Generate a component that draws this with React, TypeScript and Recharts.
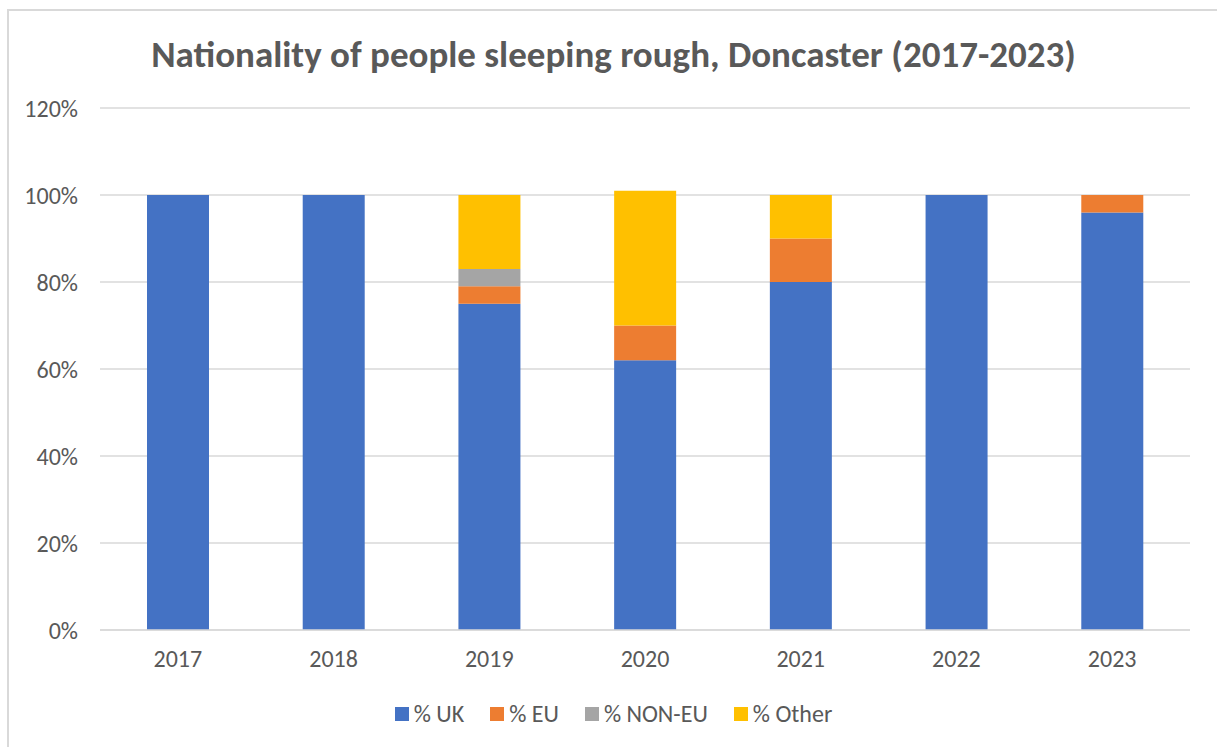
import React from 'react';
import { BarChart, Bar, XAxis, YAxis, CartesianGrid } from 'recharts';

const years = ['2017', '2018', '2019', '2020', '2021', '2022', '2023'];
const ukPct = [100, 100, 75, 62, 80, 100, 96];
const euPct = [0, 0, 4, 8, 10, 0, 4];
const nonEuPct = [0, 0, 4, 0, 0, 0, 0];
const otherPct = [0, 0, 17, 31, 10, 0, 0];
const yTicks = [0, 20, 40, 60, 80, 100, 120];

const series = [
  { key: 'uk', name: '% UK', color: '#4472C4' },
  { key: 'eu', name: '% EU', color: '#ED7D31' },
  { key: 'nonEu', name: '% NON-EU', color: '#A5A5A5' },
  { key: 'other', name: '% Other', color: '#FFC000' },
];

const data = years.map((year, i) => ({
  year,
  uk: ukPct[i],
  eu: euPct[i],
  nonEu: nonEuPct[i],
  other: otherPct[i],
}));

const font = "Carlito, 'Open Sans', 'Liberation Sans', sans-serif";
const textColor = '#595959';

const App: React.FC = () => {
  return (
    <div
      style={{
        position: 'absolute',
        left: 0,
        top: 0,
        width: 1217,
        height: 747,
        overflow: 'hidden',
        background: '#fff',
        fontFamily: font,
      }}
    >
      <div
        style={{
          position: 'absolute',
          left: 7,
          top: 9,
          width: 1400,
          height: 900,
          border: '2px solid #d9d9d9',
        }}
      />
      <div
        style={{
          position: 'absolute',
          left: 0,
          top: 32,
          width: 1227,
          textAlign: 'center',
          fontSize: 37,
          fontWeight: 700,
          color: textColor,
          lineHeight: '46px',
        }}
      >
        Nationality of people sleeping rough, Doncaster (2017-2023)
      </div>
      <div style={{ position: 'absolute', left: 0, top: 0 }}>
        <BarChart
          width={1217}
          height={747}
          data={data}
          margin={{ top: 108, right: 27, bottom: 87, left: 0 }}
        >
          <CartesianGrid vertical={false} stroke="#d9d9d9" strokeWidth={1.5} />
          <XAxis
            dataKey="year"
            height={30}
            axisLine={{ stroke: '#d9d9d9', strokeWidth: 1.5 }}
            tickLine={false}
            tick={{ fill: textColor, fontSize: 24, fontFamily: font }}
            tickMargin={14}
          />
          <YAxis
            width={100}
            domain={[0, 120]}
            ticks={yTicks}
            axisLine={false}
            tickLine={false}
            tickMargin={16}
            tickFormatter={(v: number) => `${v}%`}
            tick={{ fill: textColor, fontSize: 24, fontFamily: font }}
          />
          {series.map((s) => (
            <Bar
              key={s.key}
              dataKey={s.key}
              name={s.name}
              stackId="a"
              fill={s.color}
              barSize={62}
              isAnimationActive={false}
            />
          ))}
        </BarChart>
      </div>
      <div
        style={{
          position: 'absolute',
          left: 0,
          top: 700,
          width: 1227,
          display: 'flex',
          justifyContent: 'center',
          alignItems: 'center',
          fontSize: 24,
          color: textColor,
          lineHeight: '28px',
        }}
      >
        {series.map((s) => (
          <span key={s.key} style={{ display: 'inline-flex', alignItems: 'center', margin: '0 13px' }}>
            <span
              style={{
                display: 'inline-block',
                width: 14,
                height: 14,
                background: s.color,
                marginRight: 5,
              }}
            />
            {s.name}
          </span>
        ))}
      </div>
    </div>
  );
};

export default App;
